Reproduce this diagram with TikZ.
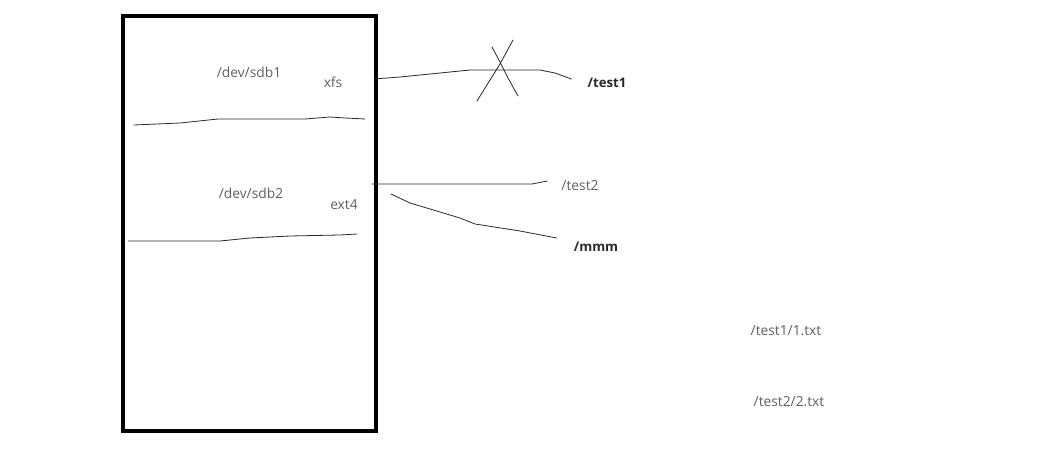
\documentclass[tikz,border=0pt]{standalone}
\usepackage{fontspec}
\setmainfont{Open Sans}
\usetikzlibrary{positioning}
\definecolor{penink}{RGB}{40,40,40}
\definecolor{labelgray}{RGB}{95,95,95}

\begin{document}
\begin{tikzpicture}[x=1pt,y=-1pt,
    lbl/.style={text=labelgray,font=\fontsize{13.8}{16}\selectfont,inner sep=0pt},
    mnt/.style={text=penink,font=\fontsize{13.2}{16}\selectfont\bfseries,inner sep=0pt},
    pen/.style={penink,line width=0.8pt,line join=round,line cap=round}]
        \useasboundingbox (0,0) rectangle (1039,457);
        % the disk
        \draw[black,line width=3.2pt] (123,16) rectangle (376,431);
        \node[lbl] (sdbone) at (249,72) {/dev/sdb1};
        \node[lbl] (xfs) at (333,82) {xfs};
        \node[lbl] (sdbtwo) at (251,193) {/dev/sdb2};
        \node[lbl] (extfour) at (344,205) {ext4};
        % partition borders
        \draw[pen] (134,125) -- (180,123) -- (218,119) -- (305,119) -- (330,117) -- (345,118) -- (365,119);
        \draw[pen] (128,241) -- (220,241) -- (250,238) -- (290,236) -- (340,235) -- (357,234);
        % mount points
        \node[mnt] (testone) at (607,83) {/test1};
        \node[lbl] (testtwo) at (580,186) {/test2};
        \node[mnt] (mmm) at (596,247) {/mmm};
        \coordinate (xfsout) at (374,79);
        \coordinate (extout) at (372,184);
        \coordinate (extlow) at (391,194);
        \draw[pen] (xfsout) -- (400,77) -- (450,72) -- (470,70) -- (540,70) -- (555,73) -- ([xshift=-16pt,yshift=4pt]testone.west);
        \draw[pen] (extout) -- (532,184) -- ([xshift=-14pt,yshift=5pt]testtwo.west);
        \draw[pen] (extlow) -- (410,203) -- (460,218) -- (475,224) -- (520,231) -- ([xshift=-17pt,yshift=9pt]mmm.west);
        % crossed out
        \draw[pen] (477,101) -- (490,80) -- (500,64) -- (513,40);
        \draw[pen] (492,47) -- (500,62) -- (508,78) -- (518,96);
        % files
        \node[lbl] (fileone) at (786,331) {/test1/1.txt};
        \node[lbl] (filetwo) at (789,402) {/test2/2.txt};
    \end{tikzpicture}
\end{document}
